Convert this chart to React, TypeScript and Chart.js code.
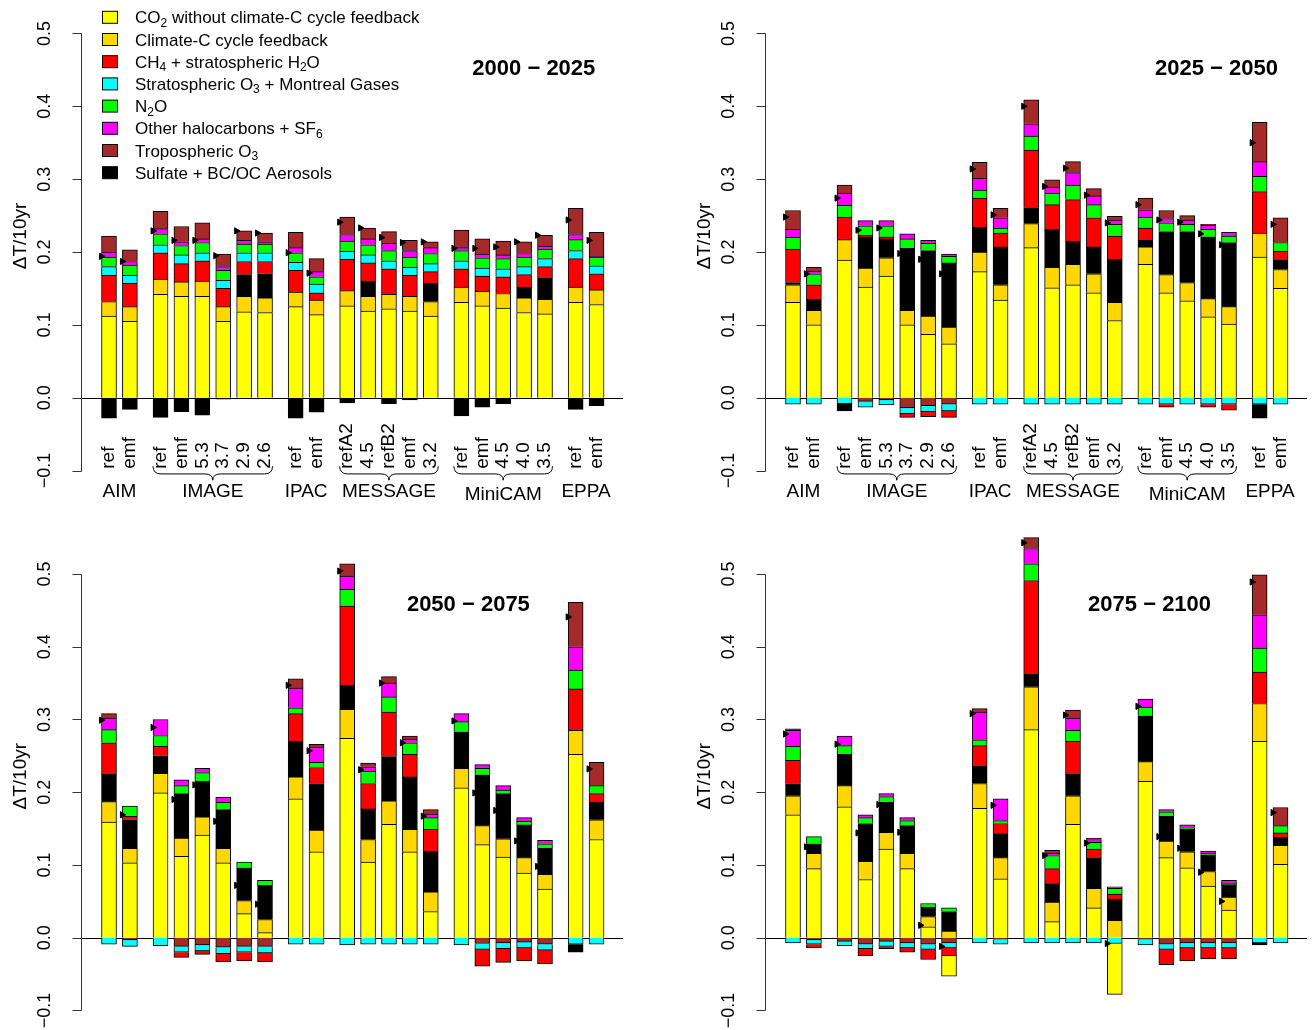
import { useEffect, useRef } from 'react';
import { Chart, registerables } from 'chart.js';

Chart.register(...registerables);

const FONT = '"Liberation Sans", Arial, Helvetica, sans-serif';

// Scenario of each bar, grouped by model
const SCENARIOS = ['ref', 'emf', 'ref', 'emf', '5.3', '3.7', '2.9', '2.6', 'ref', 'emf', 'refA2', '4.5', 'refB2', 'emf', '3.2', 'ref', 'emf', '4.5', '4.0', '3.5', 'ref', 'emf'];
const MODELS = ['AIM', 'IMAGE', 'IPAC', 'MESSAGE', 'MiniCAM', 'EPPA'];
const MODEL_BARS = [2, 6, 2, 5, 5, 2];
const BRACED_MODELS = ['IMAGE', 'MESSAGE', 'MiniCAM'];
const Y_TICKS = [-0.1, 0, 0.1, 0.2, 0.3, 0.4, 0.5];
const PERIODS = ['2000 \u2212 2025', '2025 \u2212 2050', '2050 \u2212 2075', '2075 \u2212 2100'];

// Warming-rate contributions (degC per decade) by forcing agent, 2000-2025
const CO2_2000 = [0.112, 0.105, 0.142, 0.139, 0.139, 0.105, 0.118, 0.117, 0.125, 0.114, 0.126, 0.119, 0.122, 0.119, 0.112, 0.131, 0.126, 0.123, 0.117, 0.115, 0.131, 0.128];
const CCF_2000 = [0.020, 0.020, 0.021, 0.020, 0.021, 0.020, 0.021, 0.020, 0.020, 0.020, 0.021, 0.020, 0.020, 0.020, 0.020, 0.021, 0.020, 0.020, 0.020, 0.020, 0.021, 0.020];
const AER_2000 = [-0.028, -0.016, -0.027, -0.019, -0.024, -0.002, 0.030, 0.033, -0.028, -0.020, -0.007, 0.021, -0.008, -0.003, 0.025, -0.025, -0.013, -0.008, 0.015, 0.029, -0.016, -0.011];
const CH4_2000 = [0.036, 0.032, 0.036, 0.025, 0.028, 0.025, 0.018, 0.017, 0.030, 0.010, 0.043, 0.025, 0.035, 0.029, 0.016, 0.025, 0.021, 0.023, 0.017, 0.016, 0.039, 0.022];
const O3S_2000 = [0.012, 0.011, 0.011, 0.012, 0.011, 0.011, 0.012, 0.012, 0.011, 0.012, 0.011, 0.011, 0.011, 0.011, 0.011, 0.011, 0.011, 0.011, 0.011, 0.011, 0.011, 0.011];
const N2O_2000 = [0.013, 0.014, 0.015, 0.013, 0.014, 0.014, 0.012, 0.012, 0.013, 0.010, 0.014, 0.014, 0.014, 0.014, 0.014, 0.014, 0.014, 0.014, 0.013, 0.013, 0.015, 0.012];
const HAL_2000 = [0.007, 0.005, 0.007, 0.005, 0.005, 0.005, 0.005, 0.003, 0.007, 0.007, 0.009, 0.008, 0.010, 0.009, 0.008, 0.004, 0.005, 0.005, 0.005, 0.004, 0.007, 0.001];
const O3T_2000 = [0.022, 0.016, 0.024, 0.021, 0.022, 0.017, 0.013, 0.012, 0.021, 0.018, 0.024, 0.015, 0.016, 0.014, 0.008, 0.024, 0.021, 0.019, 0.016, 0.015, 0.036, 0.033];

// 2025-2050
const CO2_2025 = [0.131, 0.100, 0.189, 0.152, 0.167, 0.100, 0.087, 0.074, 0.173, 0.134, 0.206, 0.151, 0.155, 0.144, 0.106, 0.183, 0.144, 0.133, 0.111, 0.101, 0.193, 0.150];
const CCF_2025 = [0.024, 0.020, 0.028, 0.026, 0.025, 0.020, 0.025, 0.023, 0.027, 0.021, 0.033, 0.028, 0.028, 0.026, 0.025, 0.024, 0.025, 0.025, 0.025, 0.024, 0.033, 0.026];
const AER_2025 = [0.003, 0.015, -0.010, 0.043, 0.026, 0.085, 0.090, 0.088, 0.034, 0.052, 0.022, 0.052, 0.032, 0.037, 0.059, 0.009, 0.059, 0.070, 0.085, 0.088, -0.019, 0.013];
const CH4_2025 = [0.046, 0.020, 0.031, 0.002, 0.003, -0.005, -0.007, -0.009, 0.040, 0.019, 0.079, 0.034, 0.057, 0.040, 0.032, 0.017, -0.004, 0, -0.004, -0.008, 0.057, 0.012];
const O3S_2025 = [-0.009, -0.009, -0.008, -0.008, -0.007, -0.008, -0.008, -0.009, -0.009, -0.009, -0.009, -0.009, -0.009, -0.009, -0.009, -0.009, -0.009, -0.009, -0.009, -0.009, -0.009, -0.009];
const N2O_2025 = [0.016, 0.015, 0.016, 0.013, 0.015, 0.013, 0.010, 0.009, 0.011, 0.007, 0.019, 0.016, 0.020, 0.018, 0.016, 0.015, 0.012, 0.010, 0.010, 0.009, 0.021, 0.012];
const HAL_2025 = [0.011, 0.004, 0.017, 0.007, 0.007, 0.007, 0.004, 0.003, 0.016, 0.014, 0.017, 0.008, 0.017, 0.012, 0.006, 0.010, 0.006, 0.006, 0.006, 0.005, 0.020, 0];
const O3T_2025 = [0.026, 0.005, 0.011, -0.005, -0.003, -0.014, -0.011, -0.009, 0.022, 0.013, 0.033, 0.010, 0.015, 0.010, 0.005, 0.016, 0.011, 0.006, 0.001, 0, 0.054, 0.034];

// 2050-2075
const CO2_2050 = [0.159, 0.103, 0.199, 0.112, 0.141, 0.103, 0.033, 0.007, 0.191, 0.118, 0.274, 0.104, 0.156, 0.118, 0.036, 0.206, 0.128, 0.111, 0.089, 0.067, 0.252, 0.135];
const CCF_2050 = [0.028, 0.020, 0.027, 0.025, 0.025, 0.020, 0.018, 0.018, 0.030, 0.030, 0.040, 0.031, 0.032, 0.031, 0.027, 0.027, 0.026, 0.025, 0.021, 0.020, 0.033, 0.027];
const AER_2050 = [0.038, 0.039, 0.024, 0.061, 0.049, 0.053, 0.045, 0.047, 0.049, 0.064, 0.033, 0.042, 0.061, 0.072, 0.056, 0.050, 0.070, 0.062, 0.045, 0.036, -0.011, 0.024];
const CH4_2050 = [0.043, 0.005, 0.013, -0.007, -0.005, -0.011, -0.012, -0.012, 0.038, 0.022, 0.109, 0.035, 0.061, 0.031, 0.030, 0, -0.023, -0.019, -0.018, -0.019, 0.057, 0.012];
const O3S_2050 = [-0.009, -0.009, -0.011, -0.008, -0.008, -0.009, -0.008, -0.009, -0.009, -0.009, -0.010, -0.009, -0.009, -0.009, -0.009, -0.010, -0.008, -0.008, -0.008, -0.008, -0.009, -0.009];
const N2O_2050 = [0.018, 0.014, 0.015, 0.011, 0.012, 0.010, 0.008, 0.007, 0.008, 0.007, 0.023, 0.017, 0.021, 0.016, 0.016, 0.014, 0.009, 0.005, 0.005, 0.006, 0.026, 0.011];
const HAL_2050 = [0.016, 0, 0.022, 0.008, 0.006, 0.007, 0, 0, 0.027, 0.021, 0.018, 0.006, 0.019, 0.005, 0.005, 0.011, 0.005, 0.006, 0.005, 0.005, 0.032, 0];
const O3T_2050 = [0.006, -0.003, 0, -0.012, -0.010, -0.013, -0.012, -0.012, 0.013, 0.004, 0.017, 0.005, 0.009, 0.004, 0.006, 0, -0.008, -0.007, -0.006, -0.009, 0.061, 0.032];

// 2075-2100
const CO2_2075 = [0.169, 0.095, 0.180, 0.080, 0.122, 0.095, 0.015, -0.028, 0.178, 0.081, 0.286, 0.022, 0.156, 0.041, -0.070, 0.215, 0.110, 0.096, 0.071, 0.038, 0.270, 0.101];
const CCF_2075 = [0.026, 0.021, 0.029, 0.025, 0.023, 0.021, 0.014, 0.009, 0.034, 0.029, 0.059, 0.027, 0.039, 0.027, 0.024, 0.027, 0.023, 0.022, 0.020, 0.018, 0.052, 0.026];
const AER_2075 = [0.017, 0.013, 0.043, 0.052, 0.041, 0.038, 0.013, 0.027, 0.024, 0.033, 0.017, 0.025, 0.030, 0.041, 0.029, 0.063, 0.034, 0.031, 0.023, 0.017, -0.003, 0.011];
const CH4_2075 = [0.032, -0.005, 0, -0.010, -0.003, -0.006, -0.014, -0.011, 0.028, 0.014, 0.129, 0.021, 0.045, 0.013, 0.007, 0, -0.021, -0.018, -0.015, -0.015, 0.043, 0.006];
const O3S_2075 = [-0.007, -0.006, -0.006, -0.006, -0.007, -0.007, -0.007, -0.007, -0.007, -0.007, -0.007, -0.007, -0.007, -0.007, -0.008, -0.008, -0.007, -0.007, -0.007, -0.007, -0.007, -0.007];
const N2O_2075 = [0.019, 0.010, 0.012, 0.008, 0.008, 0.007, 0.005, 0.005, 0.008, 0.004, 0.023, 0.018, 0.015, 0.009, 0.008, 0.012, 0.006, 0.002, 0.002, 0.002, 0.033, 0.010];
const HAL_2075 = [0.022, 0, 0.013, 0.004, 0.004, 0.004, 0, 0, 0.038, 0.030, 0.021, 0.003, 0.017, 0.004, 0.002, 0.011, 0.003, 0.004, 0.003, 0.004, 0.046, 0];
const O3T_2075 = [0.002, -0.003, -0.005, -0.009, -0.005, -0.007, -0.009, -0.007, 0.005, -0.002, 0.015, 0.004, 0.011, 0.002, 0, -0.002, -0.009, -0.007, -0.007, -0.007, 0.055, 0.025];

type Key = 'co2' | 'ccf' | 'ch4' | 'o3s' | 'n2o' | 'hal' | 'o3t' | 'aer';

const SERIES: Record<Key, number[]>[] = [
  { co2: CO2_2000, ccf: CCF_2000, aer: AER_2000, ch4: CH4_2000, o3s: O3S_2000, n2o: N2O_2000, hal: HAL_2000, o3t: O3T_2000 },
  { co2: CO2_2025, ccf: CCF_2025, aer: AER_2025, ch4: CH4_2025, o3s: O3S_2025, n2o: N2O_2025, hal: HAL_2025, o3t: O3T_2025 },
  { co2: CO2_2050, ccf: CCF_2050, aer: AER_2050, ch4: CH4_2050, o3s: O3S_2050, n2o: N2O_2050, hal: HAL_2050, o3t: O3T_2050 },
  { co2: CO2_2075, ccf: CCF_2075, aer: AER_2075, ch4: CH4_2075, o3s: O3S_2075, n2o: N2O_2075, hal: HAL_2075, o3t: O3T_2075 },
];

const COLORS: Record<Key, string> = {
  co2: '#FFFF00', ccf: '#FFD700', ch4: '#FF0000', o3s: '#00FFFF',
  n2o: '#00FF00', hal: '#FF00FF', o3t: '#A52A2A', aer: '#000000',
};

// Legend entries; "_n" marks a subscript digit
const LEGEND: [Key, string][] = [
  ['co2', 'CO_2 without climate-C cycle feedback'],
  ['ccf', 'Climate-C cycle feedback'],
  ['ch4', 'CH_4 + stratospheric H_2O'],
  ['o3s', 'Stratospheric O_3 + Montreal Gases'],
  ['n2o', 'N_2O'],
  ['hal', 'Other halocarbons + SF_6'],
  ['o3t', 'Tropospheric O_3'],
  ['aer', 'Sulfate + BC/OC Aerosols'],
];

// Positive parts stack upward in this order, negative parts downward in reverse
const STACK_UP: Key[] = ['co2', 'ccf', 'aer', 'ch4', 'o3s', 'n2o', 'hal', 'o3t'];
const STACK_DOWN: Key[] = [...STACK_UP].reverse();

// Layout (bar widths as x units)
const BAR_STEP = 1.5;
const MODEL_GAP = 0.7;
const X_MIN = -2.01;
const X_MAX = 36.9;
const BAR_PX = 15;

type Frame = {
  left: number; top: number; width: number; height: number;
  pad: { left: number; right: number; top: number; bottom: number };
  yMin: number; yMax: number; titleX: number; titleY: number;
};

const FRAMES: Frame[] = [
  { left: 0, top: 0, width: 629, height: 520, pad: { left: 81, right: 6, top: 11.6, bottom: 38.5 }, yMin: -0.115, yMax: 0.53, titleX: 30.5, titleY: 0.451 },
  { left: 684, top: 0, width: 629, height: 520, pad: { left: 81, right: 6, top: 11.6, bottom: 38.5 }, yMin: -0.115, yMax: 0.53, titleX: 30.4, titleY: 0.451 },
  { left: 0, top: 515, width: 629, height: 515, pad: { left: 81, right: 6, top: 11.7, bottom: 4.3 }, yMin: -0.12, yMax: 0.565, titleX: 25.8, titleY: 0.4575 },
  { left: 684, top: 515, width: 629, height: 515, pad: { left: 81, right: 6, top: 11.7, bottom: 4.3 }, yMin: -0.12, yMax: 0.565, titleX: 25.6, titleY: 0.4575 },
];

// x position of every bar and the index range of each model
const BAR_X: number[] = [];
const MODEL_RANGE: [number, number][] = [];
(() => {
  let i = 0;
  MODEL_BARS.forEach((n, g) => {
    MODEL_RANGE.push([i, i + n - 1]);
    for (let j = 0; j < n; j++) {
      BAR_X.push(i * BAR_STEP + g * MODEL_GAP);
      i++;
    }
  });
})();

function drawRich(ctx: CanvasRenderingContext2D, text: string, x: number, y: number, size: number) {
  const parts = text.split(/_(\d)/);
  let cx = x;
  parts.forEach((p, i) => {
    const sub = i % 2 === 1;
    ctx.font = `${sub ? Math.round(size * 0.7) : size}px ${FONT}`;
    ctx.fillText(p, cx, sub ? y + size * 0.2 : y);
    cx += ctx.measureText(p).width;
  });
}

function drawBrace(ctx: CanvasRenderingContext2D, x1: number, x2: number, yTop: number, h: number) {
  const xm = (x1 + x2) / 2;
  const r = 8;
  const ym = yTop + h * 0.55;
  ctx.beginPath();
  ctx.moveTo(x1, yTop);
  ctx.quadraticCurveTo(x1, ym, x1 + r, ym);
  ctx.lineTo(xm - r, ym);
  ctx.quadraticCurveTo(xm, ym, xm, yTop + h);
  ctx.quadraticCurveTo(xm, ym, xm + r, ym);
  ctx.lineTo(x2 - r, ym);
  ctx.quadraticCurveTo(x2, ym, x2, yTop);
  ctx.stroke();
}

function decorations(p: number) {
  const frame = FRAMES[p];
  return {
    id: 'decor' + p,
    beforeDatasetsDraw(chart: any) {
      const { ctx, chartArea: a, scales } = chart;
      const y0 = Math.round(scales.y.getPixelForValue(0)) + 0.5;
      ctx.save();
      ctx.strokeStyle = '#000';
      ctx.lineWidth = 1;
      ctx.beginPath();
      ctx.moveTo(a.left, y0);
      ctx.lineTo(a.right, y0);
      ctx.stroke();
      ctx.restore();
    },
    afterDraw(chart: any) {
      const { ctx, chartArea: a, scales } = chart;
      const xs = scales.x;
      const ys = scales.y;
      ctx.save();
      ctx.fillStyle = '#000';
      // y axis
      const ax = Math.round(a.left) + 0.5;
      ctx.strokeStyle = '#333';
      ctx.lineWidth = 1;
      ctx.beginPath();
      ctx.moveTo(ax, Math.round(ys.getPixelForValue(Y_TICKS[0])) + 0.5);
      ctx.lineTo(ax, Math.round(ys.getPixelForValue(Y_TICKS[Y_TICKS.length - 1])) + 0.5);
      Y_TICKS.forEach((t) => {
        const yy = Math.round(ys.getPixelForValue(t)) + 0.5;
        ctx.moveTo(ax - 9, yy);
        ctx.lineTo(ax, yy);
      });
      ctx.stroke();
      ctx.font = `18px ${FONT}`;
      ctx.textAlign = 'center';
      ctx.textBaseline = 'alphabetic';
      Y_TICKS.forEach((t) => {
        const txt = t < 0 ? '\u2212' + Math.abs(t).toFixed(1) : t.toFixed(1);
        ctx.save();
        ctx.translate(a.left - 31, ys.getPixelForValue(t));
        ctx.rotate(-Math.PI / 2);
        ctx.fillText(txt, 0, 0);
        ctx.restore();
      });
      ctx.save();
      ctx.font = `19px ${FONT}`;
      ctx.translate(a.left - 55, ys.getPixelForValue(0.222));
      ctx.rotate(-Math.PI / 2);
      ctx.fillText('\u0394T/10yr', 0, 0);
      ctx.restore();

      // period title
      ctx.font = `bold 22px ${FONT}`;
      ctx.textAlign = 'center';
      ctx.textBaseline = 'middle';
      ctx.fillText(PERIODS[p], xs.getPixelForValue(frame.titleX), ys.getPixelForValue(frame.titleY));

      // legend
      if (p === 0) {
        ctx.textAlign = 'left';
        ctx.textBaseline = 'alphabetic';
        LEGEND.forEach(([k, label], i) => {
          const yc = 17.3 + i * 22.2;
          ctx.fillStyle = COLORS[k];
          ctx.fillRect(102.5, yc - 6, 15, 12);
          ctx.strokeStyle = '#000';
          ctx.strokeRect(102.5, yc - 6, 15, 12);
          ctx.fillStyle = '#000';
          drawRich(ctx, label, 135, yc + 6, 17);
        });
      }

      // scenario and model labels
      if (p < 2) {
        const y0 = ys.getPixelForValue(0);
        ctx.font = `19px ${FONT}`;
        ctx.textAlign = 'left';
        ctx.textBaseline = 'middle';
        BAR_X.forEach((x, b) => {
          ctx.save();
          ctx.translate(xs.getPixelForValue(x), y0 + 71);
          ctx.rotate(-Math.PI / 2);
          ctx.fillText(SCENARIOS[b], 0, 0);
          ctx.restore();
        });
        ctx.textAlign = 'center';
        ctx.textBaseline = 'alphabetic';
        MODELS.forEach((m, g) => {
          const [s, e] = MODEL_RANGE[g];
          const cx = xs.getPixelForValue((BAR_X[s] + BAR_X[e]) / 2);
          ctx.fillText(m, cx, y0 + (m === 'MiniCAM' ? 102 : 99));
        });
        ctx.strokeStyle = '#000';
        ctx.lineWidth = 1;
        BRACED_MODELS.forEach((m) => {
          const [s, e] = MODEL_RANGE[MODELS.indexOf(m)];
          drawBrace(ctx, xs.getPixelForValue(BAR_X[s]) - 7.5, xs.getPixelForValue(BAR_X[e]) + 7.5, y0 + 68.5, 14);
        });
      }
      ctx.restore();
    },
  };
}

function buildConfig(p: number): any {
  const frame = FRAMES[p];
  const series = SERIES[p];
  const datasets: any[] = [];
  const barStyle = (k: Key) => ({
    type: 'bar',
    stack: 'total',
    grouped: false,
    barThickness: BAR_PX,
    backgroundColor: COLORS[k],
    borderColor: '#000',
    borderWidth: 1,
    borderSkipped: 'start',
  });
  STACK_UP.forEach((k) => {
    datasets.push({
      ...barStyle(k),
      label: k + '+',
      data: BAR_X.map((x, i) => ({ x, y: series[k][i] })).filter((d) => d.y > 0),
    });
  });
  STACK_DOWN.forEach((k) => {
    datasets.push({
      ...barStyle(k),
      label: k + '-',
      data: BAR_X.map((x, i) => ({ x, y: series[k][i] })).filter((d) => d.y < 0),
    });
  });
  // net warming rate marker at the left edge of each bar
  const keys = Object.keys(COLORS) as Key[];
  datasets.push({
    type: 'scatter',
    label: 'net',
    order: -1,
    data: BAR_X.map((x, i) => ({ x: x - 0.55, y: keys.reduce((s, k) => s + series[k][i], 0) })),
    pointStyle: 'triangle',
    pointRotation: 90,
    rotation: 90,
    pointRadius: 3.6,
    radius: 3.6,
    pointBackgroundColor: '#000',
    pointBorderColor: '#000',
    backgroundColor: '#000',
    borderColor: '#000',
    pointBorderWidth: 1,
    showLine: false,
  });
  return {
    type: 'bar',
    data: { datasets },
    options: {
      responsive: false,
      animation: false,
      events: [],
      layout: { padding: frame.pad },
      plugins: { legend: { display: false }, tooltip: { enabled: false } },
      scales: {
        x: { type: 'linear', min: X_MIN, max: X_MAX, display: false, stacked: true, offset: false, grid: { offset: false } },
        y: { type: 'linear', min: frame.yMin, max: frame.yMax, display: false, stacked: true },
      },
    },
    plugins: [decorations(p)],
  };
}

function Panel({ index }: { index: number }) {
  const ref = useRef<HTMLCanvasElement>(null);
  const f = FRAMES[index];
  useEffect(() => {
    if (!ref.current) return;
    const chart = new Chart(ref.current, buildConfig(index));
    return () => chart.destroy();
  }, [index]);
  return (
    <canvas
      ref={ref}
      width={f.width}
      height={f.height}
      style={{ position: 'absolute', left: f.left, top: f.top, width: f.width, height: f.height }}
    />
  );
}

export default function App() {
  return (
    <div style={{ position: 'absolute', left: 0, top: 0, width: 1313, height: 1030, background: '#fff' }}>
      {FRAMES.map((_, i) => (
        <Panel key={i} index={i} />
      ))}
    </div>
  );
}
